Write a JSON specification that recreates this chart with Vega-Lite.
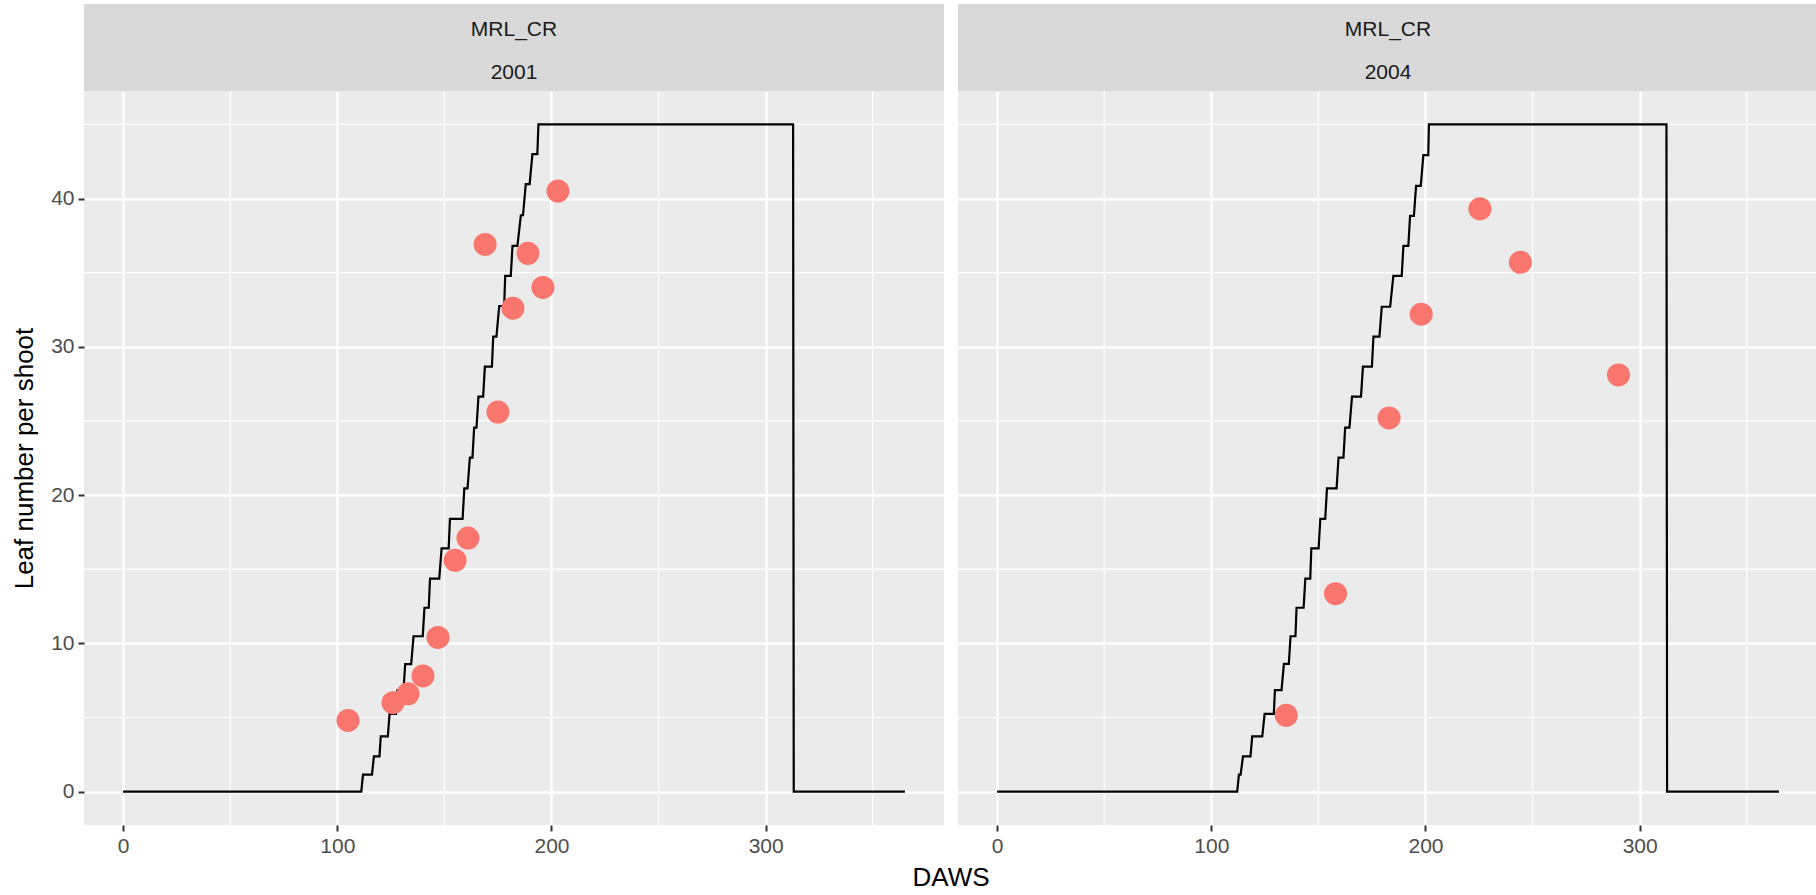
{
  "$schema": "https://vega.github.io/schema/vega-lite/v6.json",
  "background": "white",
  "padding": {"left": 11, "top": 4, "right": 0, "bottom": 0},
  "config": {
    "view": {"stroke": null},
    "font": "Liberation Sans",
    "axis": {
      "domain": false,
      "grid": true,
      "gridColor": "white",
      "gridWidth": 2.4,
      "tickColor": "#333333",
      "tickSize": 6,
      "tickWidth": 2,
      "labelColor": "#4D4D4D",
      "labelFont": "Liberation Sans",
      "labelFontSize": 21,
      "labelPadding": 4,
      "titleFont": "Liberation Sans",
      "titleFontSize": 26,
      "titleColor": "black",
      "titleFontWeight": "normal"
    }
  },
  "datasets": {
    "strip": [
      {"year": "2001", "line": 1, "label": "MRL_CR"},
      {"year": "2001", "line": 2, "label": "2001"},
      {"year": "2004", "line": 1, "label": "MRL_CR"},
      {"year": "2004", "line": 2, "label": "2004"}
    ],
    "gridx": [{"v": 50}, {"v": 150}, {"v": 250}, {"v": 350}],
    "gridy": [{"v": 5}, {"v": 15}, {"v": 25}, {"v": 35}, {"v": 45}],
    "obs": [
      {"year": "2001", "day": 105, "leaves": 4.8},
      {"year": "2001", "day": 126, "leaves": 6.0},
      {"year": "2001", "day": 133, "leaves": 6.6},
      {"year": "2001", "day": 140, "leaves": 7.8},
      {"year": "2001", "day": 147, "leaves": 10.4},
      {"year": "2001", "day": 155, "leaves": 15.6},
      {"year": "2001", "day": 161, "leaves": 17.1},
      {"year": "2001", "day": 169, "leaves": 36.9},
      {"year": "2001", "day": 175, "leaves": 25.6},
      {"year": "2001", "day": 182, "leaves": 32.6},
      {"year": "2001", "day": 189, "leaves": 36.3},
      {"year": "2001", "day": 196, "leaves": 34.0},
      {"year": "2001", "day": 203, "leaves": 40.5},
      {"year": "2004", "day": 135, "leaves": 5.15},
      {"year": "2004", "day": 158, "leaves": 13.35},
      {"year": "2004", "day": 183, "leaves": 25.2},
      {"year": "2004", "day": 198, "leaves": 32.2},
      {"year": "2004", "day": 225.4, "leaves": 39.3},
      {"year": "2004", "day": 244.3, "leaves": 35.7},
      {"year": "2004", "day": 290.1, "leaves": 28.1}
    ],
    "sim": [
      {"year": "2001", "i": 0, "day": 0, "leaves": 0},
      {"year": "2001", "i": 1, "day": 111.2, "leaves": 0},
      {"year": "2001", "i": 2, "day": 112.0, "leaves": 1.15},
      {"year": "2001", "i": 3, "day": 116.2, "leaves": 1.15},
      {"year": "2001", "i": 4, "day": 117.1, "leaves": 2.38},
      {"year": "2001", "i": 5, "day": 119.7, "leaves": 2.38},
      {"year": "2001", "i": 6, "day": 120.3, "leaves": 3.73},
      {"year": "2001", "i": 7, "day": 123.6, "leaves": 3.73},
      {"year": "2001", "i": 8, "day": 124.4, "leaves": 5.24},
      {"year": "2001", "i": 9, "day": 127.4, "leaves": 5.24},
      {"year": "2001", "i": 10, "day": 128.1, "leaves": 6.84},
      {"year": "2001", "i": 11, "day": 130.9, "leaves": 6.84},
      {"year": "2001", "i": 12, "day": 131.7, "leaves": 8.6},
      {"year": "2001", "i": 13, "day": 134.5, "leaves": 8.6},
      {"year": "2001", "i": 14, "day": 135.6, "leaves": 10.48},
      {"year": "2001", "i": 15, "day": 139.9, "leaves": 10.48},
      {"year": "2001", "i": 16, "day": 140.7, "leaves": 12.4},
      {"year": "2001", "i": 17, "day": 142.7, "leaves": 12.4},
      {"year": "2001", "i": 18, "day": 143.3, "leaves": 14.37},
      {"year": "2001", "i": 19, "day": 147.6, "leaves": 14.37},
      {"year": "2001", "i": 20, "day": 148.7, "leaves": 16.4},
      {"year": "2001", "i": 21, "day": 152.0, "leaves": 16.4},
      {"year": "2001", "i": 22, "day": 152.6, "leaves": 18.4},
      {"year": "2001", "i": 23, "day": 158.5, "leaves": 18.4},
      {"year": "2001", "i": 24, "day": 159.3, "leaves": 20.45},
      {"year": "2001", "i": 25, "day": 160.8, "leaves": 20.45},
      {"year": "2001", "i": 26, "day": 161.9, "leaves": 22.52},
      {"year": "2001", "i": 27, "day": 163.1, "leaves": 22.52},
      {"year": "2001", "i": 28, "day": 163.9, "leaves": 24.55},
      {"year": "2001", "i": 29, "day": 165.0, "leaves": 24.55},
      {"year": "2001", "i": 30, "day": 165.9, "leaves": 26.64},
      {"year": "2001", "i": 31, "day": 168.1, "leaves": 26.64},
      {"year": "2001", "i": 32, "day": 168.9, "leaves": 28.66},
      {"year": "2001", "i": 33, "day": 172.2, "leaves": 28.66},
      {"year": "2001", "i": 34, "day": 172.8, "leaves": 30.68},
      {"year": "2001", "i": 35, "day": 174.3, "leaves": 30.68},
      {"year": "2001", "i": 36, "day": 175.6, "leaves": 32.75},
      {"year": "2001", "i": 37, "day": 177.9, "leaves": 32.75},
      {"year": "2001", "i": 38, "day": 178.4, "leaves": 34.78},
      {"year": "2001", "i": 39, "day": 181.0, "leaves": 34.78},
      {"year": "2001", "i": 40, "day": 181.8, "leaves": 36.8},
      {"year": "2001", "i": 41, "day": 184.1, "leaves": 36.8},
      {"year": "2001", "i": 42, "day": 185.7, "leaves": 38.87},
      {"year": "2001", "i": 43, "day": 186.7, "leaves": 38.87},
      {"year": "2001", "i": 44, "day": 188.0, "leaves": 40.97},
      {"year": "2001", "i": 45, "day": 189.8, "leaves": 40.97},
      {"year": "2001", "i": 46, "day": 191.1, "leaves": 42.99},
      {"year": "2001", "i": 47, "day": 193.4, "leaves": 42.99},
      {"year": "2001", "i": 48, "day": 193.9, "leaves": 45},
      {"year": "2001", "i": 49, "day": 312.8, "leaves": 45},
      {"year": "2001", "i": 50, "day": 313.1, "leaves": 0},
      {"year": "2001", "i": 51, "day": 365, "leaves": 0},
      {"year": "2004", "i": 0, "day": 0, "leaves": 0},
      {"year": "2004", "i": 1, "day": 112.1, "leaves": 0},
      {"year": "2004", "i": 2, "day": 112.9, "leaves": 1.15},
      {"year": "2004", "i": 3, "day": 113.7, "leaves": 1.15},
      {"year": "2004", "i": 4, "day": 114.8, "leaves": 2.38},
      {"year": "2004", "i": 5, "day": 118.3, "leaves": 2.38},
      {"year": "2004", "i": 6, "day": 119.1, "leaves": 3.73},
      {"year": "2004", "i": 7, "day": 123.8, "leaves": 3.73},
      {"year": "2004", "i": 8, "day": 124.9, "leaves": 5.24},
      {"year": "2004", "i": 9, "day": 129.2, "leaves": 5.24},
      {"year": "2004", "i": 10, "day": 129.7, "leaves": 6.84},
      {"year": "2004", "i": 11, "day": 132.8, "leaves": 6.84},
      {"year": "2004", "i": 12, "day": 133.9, "leaves": 8.62},
      {"year": "2004", "i": 13, "day": 136.2, "leaves": 8.62},
      {"year": "2004", "i": 14, "day": 137.0, "leaves": 10.48},
      {"year": "2004", "i": 15, "day": 139.3, "leaves": 10.48},
      {"year": "2004", "i": 16, "day": 139.8, "leaves": 12.4},
      {"year": "2004", "i": 17, "day": 143.1, "leaves": 12.4},
      {"year": "2004", "i": 18, "day": 143.9, "leaves": 14.37},
      {"year": "2004", "i": 19, "day": 146.2, "leaves": 14.37},
      {"year": "2004", "i": 20, "day": 146.7, "leaves": 16.4},
      {"year": "2004", "i": 21, "day": 150.1, "leaves": 16.4},
      {"year": "2004", "i": 22, "day": 150.9, "leaves": 18.4},
      {"year": "2004", "i": 23, "day": 153.2, "leaves": 18.4},
      {"year": "2004", "i": 24, "day": 154.0, "leaves": 20.45},
      {"year": "2004", "i": 25, "day": 158.5, "leaves": 20.45},
      {"year": "2004", "i": 26, "day": 159.4, "leaves": 22.52},
      {"year": "2004", "i": 27, "day": 161.7, "leaves": 22.52},
      {"year": "2004", "i": 28, "day": 162.5, "leaves": 24.55},
      {"year": "2004", "i": 29, "day": 164.5, "leaves": 24.55},
      {"year": "2004", "i": 30, "day": 165.7, "leaves": 26.64},
      {"year": "2004", "i": 31, "day": 169.9, "leaves": 26.64},
      {"year": "2004", "i": 32, "day": 170.8, "leaves": 28.66},
      {"year": "2004", "i": 33, "day": 175.0, "leaves": 28.66},
      {"year": "2004", "i": 34, "day": 175.7, "leaves": 30.68},
      {"year": "2004", "i": 35, "day": 178.5, "leaves": 30.68},
      {"year": "2004", "i": 36, "day": 179.6, "leaves": 32.7},
      {"year": "2004", "i": 37, "day": 183.5, "leaves": 32.7},
      {"year": "2004", "i": 38, "day": 185.0, "leaves": 34.78},
      {"year": "2004", "i": 39, "day": 188.9, "leaves": 34.78},
      {"year": "2004", "i": 40, "day": 189.7, "leaves": 36.8},
      {"year": "2004", "i": 41, "day": 192.0, "leaves": 36.8},
      {"year": "2004", "i": 42, "day": 192.8, "leaves": 38.83},
      {"year": "2004", "i": 43, "day": 194.6, "leaves": 38.83},
      {"year": "2004", "i": 44, "day": 195.6, "leaves": 40.85},
      {"year": "2004", "i": 45, "day": 197.8, "leaves": 40.85},
      {"year": "2004", "i": 46, "day": 199.0, "leaves": 42.92},
      {"year": "2004", "i": 47, "day": 201.3, "leaves": 42.92},
      {"year": "2004", "i": 48, "day": 201.6, "leaves": 45},
      {"year": "2004", "i": 49, "day": 312.5, "leaves": 45},
      {"year": "2004", "i": 50, "day": 312.8, "leaves": 0},
      {"year": "2004", "i": 51, "day": 365, "leaves": 0}
    ]
  },
  "bounds": "flush",
  "columns": 2,
  "spacing": {"row": 0, "column": 14},
  "concat": [
    {
      "width": 860, "height": 87,
      "view": {"fill": "#D9D9D9", "stroke": null},
      "data": {"name": "strip"},
      "transform": [{"filter": "datum.year === '2001'"}],
      "mark": {"type": "text", "font": "Liberation Sans", "fontSize": 21, "color": "#1A1A1A", "baseline": "middle", "dy": 4},
      "encoding": {
        "y": {"field": "line", "type": "ordinal", "scale": {"paddingInner": 0, "paddingOuter": 0}, "axis": null},
        "text": {"field": "label", "type": "nominal"}
      }
    },
    {
      "width": 860, "height": 87,
      "view": {"fill": "#D9D9D9", "stroke": null},
      "data": {"name": "strip"},
      "transform": [{"filter": "datum.year === '2004'"}],
      "mark": {"type": "text", "font": "Liberation Sans", "fontSize": 21, "color": "#1A1A1A", "baseline": "middle", "dy": 4},
      "encoding": {
        "y": {"field": "line", "type": "ordinal", "scale": {"paddingInner": 0, "paddingOuter": 0}, "axis": null},
        "text": {"field": "label", "type": "nominal"}
      }
    },
    {
      "width": 860, "height": 734,
      "view": {"fill": "#EBEBEB", "stroke": null},
      "layer": [
        {
          "data": {"name": "gridx"},
          "mark": {"type": "rule", "color": "white", "strokeWidth": 1.2},
          "encoding": {
            "x": {"field": "v", "type": "quantitative", "scale": {"domain": [-18.25, 383.25], "nice": false, "zero": false},
                  "axis": {"values": [0, 100, 200, 300], "title": "DAWS", "titleX": 866.5, "titlePadding": 8}}
          }
        },
        {
          "data": {"name": "gridy"},
          "mark": {"type": "rule", "color": "white", "strokeWidth": 1.2},
          "encoding": {
            "y": {"field": "v", "type": "quantitative", "scale": {"domain": [-2.25, 47.25], "nice": false, "zero": false},
                  "axis": {"values": [0, 10, 20, 30, 40], "title": "Leaf number per shoot", "titlePadding": 13}}
          }
        },
        {
          "data": {"name": "sim"},
          "transform": [{"filter": "datum.year === '2001'"}],
          "mark": {"type": "line", "color": "black", "strokeWidth": 2.2},
          "encoding": {
            "x": {"field": "day", "type": "quantitative", "scale": {"domain": [-18.25, 383.25], "nice": false, "zero": false},
                  "axis": {"values": [0, 100, 200, 300], "title": "DAWS", "titleX": 866.5, "titlePadding": 8}},
            "y": {"field": "leaves", "type": "quantitative", "scale": {"domain": [-2.25, 47.25], "nice": false, "zero": false},
                  "axis": {"values": [0, 10, 20, 30, 40], "title": "Leaf number per shoot", "titlePadding": 13}},
            "order": {"field": "i", "type": "quantitative"}
          }
        },
        {
          "data": {"name": "obs"},
          "transform": [{"filter": "datum.year === '2001'"}],
          "mark": {"type": "circle", "size": 530, "color": "#F8766D", "opacity": 1},
          "encoding": {
            "x": {"field": "day", "type": "quantitative", "scale": {"domain": [-18.25, 383.25], "nice": false, "zero": false},
                  "axis": {"values": [0, 100, 200, 300], "title": "DAWS", "titleX": 866.5, "titlePadding": 8}},
            "y": {"field": "leaves", "type": "quantitative", "scale": {"domain": [-2.25, 47.25], "nice": false, "zero": false},
                  "axis": {"values": [0, 10, 20, 30, 40], "title": "Leaf number per shoot", "titlePadding": 13}}
          }
        }
      ]
    },
    {
      "width": 860, "height": 734,
      "view": {"fill": "#EBEBEB", "stroke": null},
      "layer": [
        {
          "data": {"name": "gridx"},
          "mark": {"type": "rule", "color": "white", "strokeWidth": 1.2},
          "encoding": {
            "x": {"field": "v", "type": "quantitative", "scale": {"domain": [-18.25, 383.25], "nice": false, "zero": false},
                  "axis": {"values": [0, 100, 200, 300], "title": null}}
          }
        },
        {
          "data": {"name": "gridy"},
          "mark": {"type": "rule", "color": "white", "strokeWidth": 1.2},
          "encoding": {
            "y": {"field": "v", "type": "quantitative", "scale": {"domain": [-2.25, 47.25], "nice": false, "zero": false},
                  "axis": {"values": [0, 10, 20, 30, 40], "title": null, "labels": false, "ticks": false}}
          }
        },
        {
          "data": {"name": "sim"},
          "transform": [{"filter": "datum.year === '2004'"}],
          "mark": {"type": "line", "color": "black", "strokeWidth": 2.2},
          "encoding": {
            "x": {"field": "day", "type": "quantitative", "scale": {"domain": [-18.25, 383.25], "nice": false, "zero": false},
                  "axis": {"values": [0, 100, 200, 300], "title": null}},
            "y": {"field": "leaves", "type": "quantitative", "scale": {"domain": [-2.25, 47.25], "nice": false, "zero": false},
                  "axis": {"values": [0, 10, 20, 30, 40], "title": null, "labels": false, "ticks": false}},
            "order": {"field": "i", "type": "quantitative"}
          }
        },
        {
          "data": {"name": "obs"},
          "transform": [{"filter": "datum.year === '2004'"}],
          "mark": {"type": "circle", "size": 530, "color": "#F8766D", "opacity": 1},
          "encoding": {
            "x": {"field": "day", "type": "quantitative", "scale": {"domain": [-18.25, 383.25], "nice": false, "zero": false},
                  "axis": {"values": [0, 100, 200, 300], "title": null}},
            "y": {"field": "leaves", "type": "quantitative", "scale": {"domain": [-2.25, 47.25], "nice": false, "zero": false},
                  "axis": {"values": [0, 10, 20, 30, 40], "title": null, "labels": false, "ticks": false}}
          }
        }
      ]
    }
  ]
}
